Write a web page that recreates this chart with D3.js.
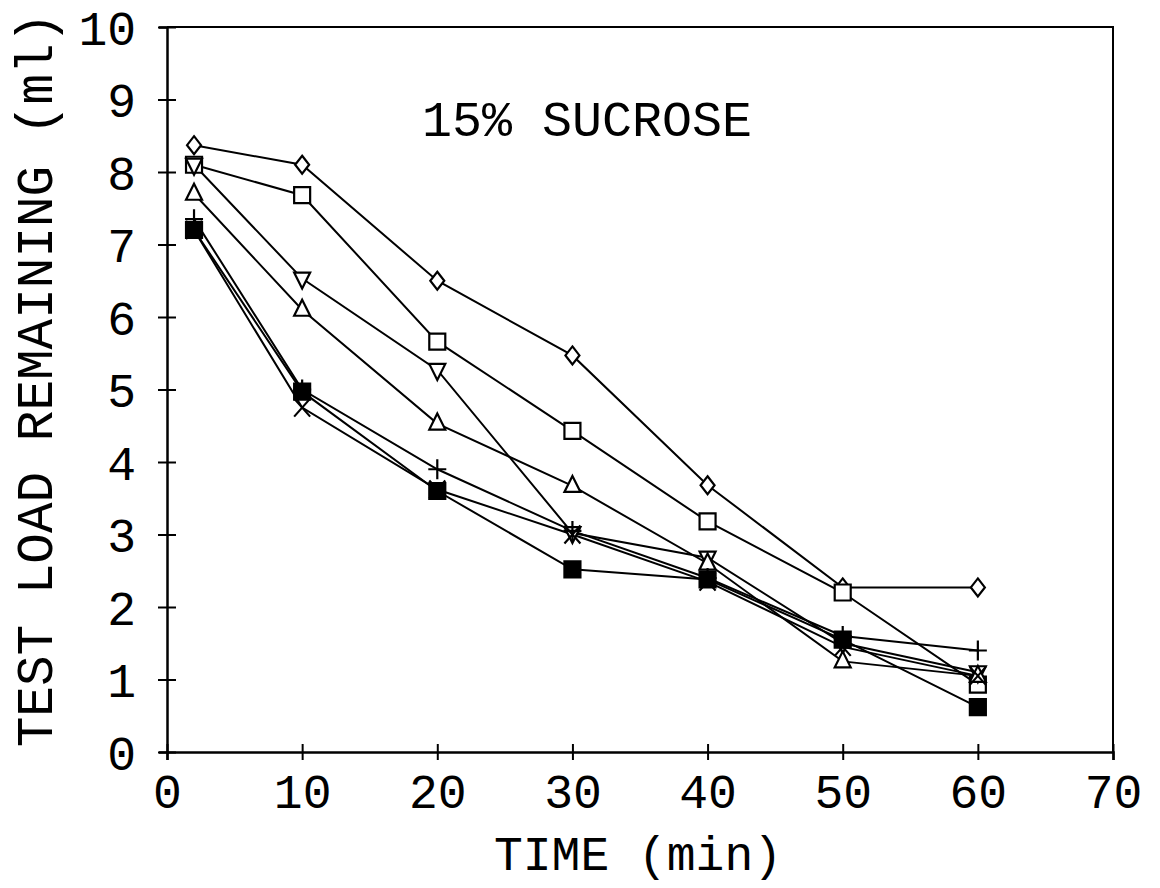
<!DOCTYPE html>
<html>
<head>
<meta charset="utf-8">
<script src="https://cdn.jsdelivr.net/npm/d3@7"></script>
<style>
  body { margin: 0; background: #fff; }
  svg text { font-family: 'Liberation Mono', 'DejaVu Sans Mono', monospace; fill: #000; }
</style>
</head>
<body>
<svg width="1160" height="888"></svg>
<script>
var svg = d3.select('svg');

// data
var time = [2, 10, 20, 30, 40, 50, 60];
var diamond = [8.37, 8.1, 6.5, 5.47, 3.68, 2.27, 2.27];
var square = [8.1, 7.68, 5.66, 4.43, 3.18, 2.2, 0.93];
var triDown = [8.1, 6.53, 5.27, 3.02, 2.68, 1.5, 1.1];
var triUp = [7.7, 6.1, 4.53, 3.67, 2.6, 1.25, 1.05];
var plus = [7.35, 5.0, 3.9, 3.05, 2.4, 1.6, 1.4];
var cross = [7.2, 4.75, 3.62, 3.0, 2.35, 1.45, 1.05];
var filledSq = [7.2, 4.97, 3.6, 2.52, 2.38, 1.55, 0.62];

var xTicks = [0, 10, 20, 30, 40, 50, 60, 70];
var yTicks = [0, 1, 2, 3, 4, 5, 6, 7, 8, 9, 10];

var series = [
  {values: diamond, marker: 'diamond'},
  {values: square, marker: 'square'},
  {values: triDown, marker: 'triDown'},
  {values: triUp, marker: 'triUp'},
  {values: plus, marker: 'plus'},
  {values: cross, marker: 'cross'},
  {values: filledSq, marker: 'filled'}
];

var plotLeft = 167, plotRight = 1113, plotTop = 27, plotBottom = 752;

var xScale = d3.scaleLinear().domain([0, 70]).range([plotLeft, plotRight]);
var yScale = d3.scaleLinear().domain([0, 10]).range([plotBottom, plotTop]);

// frame
svg.append('path')
  .attr('d', 'M' + plotLeft + ',' + plotTop + 'H' + plotRight + 'V' + plotBottom)
  .attr('fill', 'none').attr('stroke', '#000').attr('stroke-width', 2);

var yAxis = d3.axisLeft(yScale).tickValues(yTicks).tickSize(8).tickPadding(23);
var yg = svg.append('g').attr('transform', 'translate(' + plotLeft + ',0)').call(yAxis);
yg.select('.domain').attr('stroke-width', 2.5);
yg.selectAll('.tick line').attr('x1', -9).attr('x2', 9).attr('stroke-width', 2);
yg.selectAll('.tick text').style('font-size', '48px').attr('dy', '0.36em');

var xAxis = d3.axisBottom(xScale).tickValues(xTicks).tickSize(8).tickPadding(14);
var xg = svg.append('g').attr('transform', 'translate(0,' + plotBottom + ')').call(xAxis);
xg.select('.domain').attr('stroke-width', 2.5);
xg.selectAll('.tick line').attr('y1', -8).attr('y2', 8).attr('stroke-width', 2);
xg.selectAll('.tick text').style('font-size', '48px').attr('dy', '0.71em');

// lines
var line = d3.line()
  .x(function(d, i) { return xScale(time[i]); })
  .y(function(d) { return yScale(d); });

svg.selectAll('.series').data(series).enter().append('path')
  .attr('class', 'series')
  .attr('d', function(s) { return line(s.values); })
  .attr('fill', 'none').attr('stroke', '#000').attr('stroke-width', 2);

// markers
function markerPath(type) {
  if (type === 'diamond') return 'M0,-9L7,0L0,9L-7,0Z';
  if (type === 'square' || type === 'filled') return 'M-8,-8H8V8H-8Z';
  if (type === 'triUp') return 'M0,-10L8,6H-8Z';
  if (type === 'triDown') return 'M0,10L8,-6H-8Z';
  if (type === 'plus') return 'M0,-10V10M-9,0H9';
  if (type === 'cross') return 'M-8,-9L8,9M8,-9L-8,9';
  return '';
}

series.forEach(function(s) {
  svg.selectAll(null).data(s.values).enter().append('path')
    .attr('transform', function(d, i) {
      return 'translate(' + xScale(time[i]) + ',' + yScale(d) + ')';
    })
    .attr('d', markerPath(s.marker))
    .attr('fill', s.marker === 'filled' ? '#000' : (s.marker === 'plus' || s.marker === 'cross' ? 'none' : '#fff'))
    .attr('stroke', '#000')
    .attr('stroke-width', 2.2);
});

// texts
svg.append('text')
  .attr('x', 587).attr('y', 136)
  .attr('text-anchor', 'middle')
  .style('font-size', '50px')
  .text('15% SUCROSE');

svg.append('text')
  .attr('x', 638).attr('y', 870)
  .attr('text-anchor', 'middle')
  .style('font-size', '48px')
  .text('TIME (min)');

svg.append('text')
  .attr('transform', 'translate(52,380) rotate(-90)')
  .attr('text-anchor', 'middle')
  .style('font-size', '51px')
  .text('TEST LOAD REMAINING (ml)');
</script>
</body>
</html>
